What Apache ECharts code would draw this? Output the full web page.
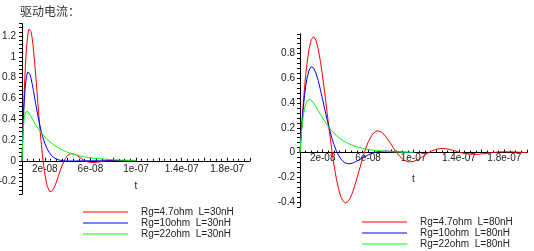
<!DOCTYPE html>
<html>
<head>
<meta charset="utf-8">
<title>驱动电流</title>
<script src="https://cdn.jsdelivr.net/npm/echarts@6/dist/echarts.min.js"></script>
<style>
	html, body { margin: 0; padding: 0; background: #fff; }
	#chart { width: 534px; height: 251px; }
</style>
</head>
<body>
<div id="chart"></div>
<script>
// time axis in ns (tick labels are written in seconds)
var tL30 = [0, 1, 2, 3, 4, 5, 6, 7, 8, 9, 10, 11, 12, 13, 14, 15, 16, 17, 18, 19,
	20, 22, 24, 26, 28, 30, 32, 34, 36, 38, 40, 42, 44, 46, 48, 50, 52, 54, 56, 58, 60,
	64, 68, 72, 76, 80, 85, 90, 95, 100];
var rg47L30 = [0, 0.372, 0.678, 0.918, 1.093, 1.208, 1.266, 1.276, 1.242, 1.173, 1.077, 0.959, 0.828, 0.688, 0.547, 0.409, 0.278, 0.156, 0.047, -0.047,
	-0.127, -0.239, -0.292, -0.296, -0.264, -0.209, -0.144, -0.080, -0.023, 0.021, 0.051, 0.067, 0.070, 0.064, 0.053, 0.037, 0.022, 0.008, -0.004, -0.011, -0.015,
	-0.016, -0.010, -0.003, 0.002, 0.004, 0.003, 0.001, -0.001, -0.001];
var rg10L30 = [0, 0.342, 0.578, 0.729, 0.816, 0.854, 0.856, 0.832, 0.790, 0.736, 0.676, 0.613, 0.550, 0.488, 0.429, 0.374, 0.324, 0.278, 0.237, 0.201,
	0.169, 0.117, 0.078, 0.050, 0.031, 0.018, 0.010, 0.004, 0.001, -0.001, -0.002, -0.002, -0.002, -0.002, -0.001, -0.001, -0.001, 0, 0, 0, 0,
	0, 0, 0, 0, 0, 0, 0, 0, 0];
var rg22L30 = [0, 0.285, 0.415, 0.467, 0.481, 0.475, 0.461, 0.443, 0.423, 0.403, 0.383, 0.364, 0.346, 0.329, 0.313, 0.297, 0.282, 0.268, 0.255, 0.242,
	0.230, 0.207, 0.187, 0.169, 0.152, 0.137, 0.124, 0.112, 0.101, 0.091, 0.082, 0.074, 0.067, 0.060, 0.055, 0.049, 0.044, 0.040, 0.036, 0.033, 0.029,
	0.024, 0.020, 0.016, 0.013, 0.011, 0.008, 0.006, 0.005, 0.004];

var tL80 = [0, 1, 2, 3, 4, 5, 6,
	8, 10, 12, 14, 16, 18, 20, 22, 24, 26, 28, 30, 32, 34, 36, 38, 40, 42, 44, 46, 48, 50, 52, 54, 56, 58, 60,
	64, 68, 72, 76, 80, 84, 88, 92, 96, 100, 104, 108, 112, 116, 120, 124, 128, 132, 136, 140,
	144, 148, 152, 156, 160, 164, 168, 172, 176, 180, 184, 188, 192, 196, 200];
var rg47L80 = [0, 0.147, 0.284, 0.410, 0.523, 0.623, 0.710,
	0.840, 0.915, 0.936, 0.909, 0.840, 0.737, 0.609, 0.465, 0.314, 0.165, 0.024, -0.103, -0.210, -0.296, -0.357, -0.394, -0.407, -0.398, -0.372, -0.329, -0.275, -0.213, -0.149, -0.083, -0.021, 0.036, 0.084,
	0.151, 0.177, 0.165, 0.125, 0.071, 0.013, -0.033, -0.064, -0.076, -0.072, -0.056, -0.033, -0.008, 0.013, 0.027, 0.033, 0.032, 0.025, 0.015, 0.004,
	-0.005, -0.011, -0.014, -0.014, -0.011, -0.007, -0.002, 0.002, 0.005, 0.006, 0.006, 0.005, 0.003, 0.001, -0.001];
// the 10 and 22 ohm traces die out by 1e-07, the lists stop there
var rg10L80 = [0, 0.143, 0.267, 0.373, 0.462, 0.535, 0.593,
	0.667, 0.694, 0.683, 0.643, 0.582, 0.508, 0.426, 0.343, 0.262, 0.187, 0.120, 0.063, 0.015, -0.023, -0.052, -0.072, -0.084, -0.089, -0.090, -0.086, -0.078, -0.069, -0.059, -0.048, -0.038, -0.028, -0.019,
	-0.004, 0.006, 0.010, 0.012, 0.010, 0.008, 0.005, 0.003, 0.001, 0];
var rg22L80 = [0, 0.133, 0.232, 0.305, 0.356, 0.392, 0.414,
	0.430, 0.422, 0.401, 0.372, 0.341, 0.309, 0.278, 0.249, 0.223, 0.198, 0.176, 0.156, 0.139, 0.123, 0.109, 0.096, 0.085, 0.075, 0.067, 0.059, 0.052, 0.046, 0.041, 0.036, 0.032, 0.028, 0.025,
	0.020, 0.015, 0.012, 0.009, 0.007, 0.006, 0.004, 0.003, 0.003, 0.002];

var xTickValues = [20, 60, 100, 140, 180];
var xTickLabels = ['2e-08', '6e-08', '1e-07', '1.4e-07', '1.8e-07'];
var namesL30 = ['Rg=4.7ohm  L=30nH', 'Rg=10ohm  L=30nH', 'Rg=22ohm  L=30nH'];
var namesL80 = ['Rg=4.7ohm  L=80nH', 'Rg=10ohm  L=80nH', 'Rg=22ohm  L=80nH'];
var colors = ['#ff0000', '#0000ff', '#00ff00'];

var FONT = "'Liberation Sans', Arial, sans-serif";
var TEXT = '#222';

function pairs(t, v) {
	return v.map(function (y, i) { return [t[i], y]; });
}
function xLabel(v) {
	var i = xTickValues.indexOf(Math.round(v));
	return i < 0 ? '' : xTickLabels[i];
}
function yLabel(v) {
	var k = v / 0.2;
	if (Math.abs(k - Math.round(k)) > 1e-6) return '';
	return String(Math.round(k) * 2 / 10);
}
// labels and name are laid out from the grid bottom, so pull them up to the zero line
function xAxis(idx, margin, gap) {
	return {
		type: 'value', gridIndex: idx, min: 0, max: 200, interval: 20, z: 3,
		name: 't', nameLocation: 'middle', nameGap: gap,
		nameTextStyle: { fontFamily: FONT, fontSize: 10, color: TEXT },
		axisLine: { onZero: true, lineStyle: { color: '#000', width: 1 } },
		axisTick: { inside: true, length: 3, lineStyle: { color: '#000' } },
		minorTick: { show: true, splitNumber: 4, length: 2, lineStyle: { color: '#000' } },
		axisLabel: { formatter: xLabel, margin: margin, fontFamily: FONT, fontSize: 10, color: TEXT, showMinLabel: false, hideOverlap: false },
		splitLine: { show: false }
	};
}
function yAxis(idx, min, max, margin) {
	return {
		type: 'value', gridIndex: idx, min: min, max: max, interval: 0.04, z: 3,
		axisLine: { show: true, onZero: false, lineStyle: { color: '#000', width: 1 } },
		axisTick: { show: true, length: 3, lineStyle: { color: '#000' } },
		axisLabel: { formatter: yLabel, margin: margin, fontFamily: FONT, fontSize: 10, color: TEXT },
		splitLine: { show: false }
	};
}
function legend(names, left, top) {
	return {
		data: names, orient: 'vertical', left: left, top: top, padding: 0,
		icon: 'rect', itemWidth: 45, itemHeight: 1, itemGap: 0,
		selectedMode: false,
		textStyle: { fontFamily: FONT, fontSize: 10, lineHeight: 11, color: TEXT, padding: [0, 0, 0, 8] }
	};
}
function line(name, idx, t, v, color) {
	return {
		name: name, type: 'line', xAxisIndex: idx, yAxisIndex: idx,
		data: pairs(t, v), symbol: 'none', showSymbol: false,
		color: color, lineStyle: { color: color, width: 1 }
	};
}

var chart = echarts.init(document.getElementById('chart'));
chart.setOption({
	animation: false,
	backgroundColor: '#fff',
	title: {
		text: '驱动电流：', left: 20, top: 5, padding: 0,
		textStyle: { fontFamily: "'Noto Sans CJK SC', sans-serif", fontSize: 12, fontWeight: 'normal', color: '#333' }
	},
	grid: [
		{ left: 22, top: 23.5, width: 228, height: 170.6, outerBoundsMode: 'none' },
		{ left: 300, top: 33.8, width: 227, height: 173.2, outerBoundsMode: 'none' }
	],
	xAxis: [xAxis(0, -30, -13), xAxis(1, -54, -33)],
	yAxis: [yAxis(0, -0.32, 1.32, 6), yAxis(1, -0.44, 0.96, 5)],
	legend: [legend(namesL30, 83, 206.5), legend(namesL80, 362, 216.5)],
	series: [
		line(namesL30[0], 0, tL30, rg47L30, colors[0]),
		line(namesL30[1], 0, tL30, rg10L30, colors[1]),
		line(namesL30[2], 0, tL30, rg22L30, colors[2]),
		line(namesL80[0], 1, tL80, rg47L80, colors[0]),
		line(namesL80[1], 1, tL80, rg10L80, colors[1]),
		line(namesL80[2], 1, tL80, rg22L80, colors[2])
	]
});
</script>
</body>
</html>
